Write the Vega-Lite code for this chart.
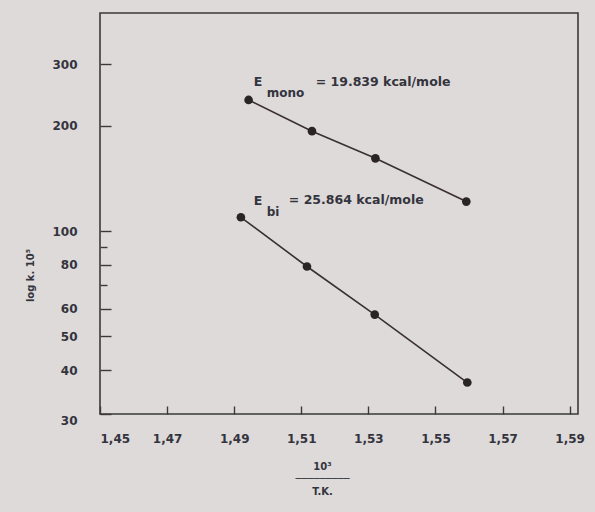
{
  "$schema": "https://vega.github.io/schema/vega-lite/v6.json",
  "width": 478,
  "height": 401,
  "autosize": {"type": "none"},
  "padding": {"left": 100, "top": 13, "right": 17, "bottom": 98},
  "background": "#dedad9",
  "config": {
    "view": {"stroke": "#3a3a3a", "strokeWidth": 1.6},
    "font": "DejaVu Sans",
    "axis": {
      "domain": false,
      "grid": false,
      "labelColor": "#34343e",
      "labelFontSize": 12,
      "labelFontWeight": "bold",
      "tickColor": "#3a3a3a",
      "tickWidth": 1.4,
      "titleColor": "#34343e",
      "titleFontWeight": "bold"
    }
  },
  "datasets": {
    "points": [
      {"series": "mono", "x": 1.4943, "k": 237},
      {"series": "mono", "x": 1.5132, "k": 193},
      {"series": "mono", "x": 1.5321, "k": 161.4},
      {"series": "mono", "x": 1.5592, "k": 121.4},
      {"series": "bi", "x": 1.492, "k": 109.5},
      {"series": "bi", "x": 1.5117, "k": 79.2},
      {"series": "bi", "x": 1.5319, "k": 57.7},
      {"series": "bi", "x": 1.5595, "k": 36.9}
    ],
    "labels": [
      {"x": 1.4958, "k": 266.6, "text": "E"},
      {"x": 1.5143, "k": 266.6, "text": "= 19.839 kcal/mole"},
      {"x": 1.4958, "k": 122.2, "text": "E"},
      {"x": 1.5063, "k": 123, "text": "= 25.864 kcal/mole"}
    ],
    "subs": [
      {"x": 1.4997, "k": 248, "text": "mono"},
      {"x": 1.4997, "k": 113.6, "text": "bi"}
    ]
  },
  "encoding": {
    "x": {
      "field": "x",
      "type": "quantitative",
      "scale": {"domain": [1.45, 1.5925], "nice": false, "zero": false},
      "axis": {
        "values": [1.45, 1.47, 1.49, 1.51, 1.53, 1.55, 1.57, 1.59],
        "labelExpr": "replace(format(datum.value, '.2f'), '.', ',')",
        "tickSize": -8,
        "labelPadding": 27,
        "title": ["10³", "─────────", "T.K."],
        "titleFontSize": 10,
        "titleLineHeight": 12.5,
        "titleX": 222,
        "titleY": 47,
        "titleBaseline": "top",
        "titleAlign": "center"
      }
    },
    "y": {
      "field": "k",
      "type": "quantitative",
      "scale": {"type": "log", "domain": [30, 420], "nice": false},
      "axis": {
        "values": [30, 40, 50, 60, 70, 80, 90, 100, 200, 300],
        "labelExpr": "datum.value == 70 || datum.value == 90 ? '' : format(datum.value, 'd')",
        "tickSize": {"condition": {"test": "datum.value == 70 || datum.value == 90", "value": -7}, "value": -11},
        "labelOffset": {"condition": {"test": "datum.value == 30", "value": 6}, "value": 0},
        "labelPadding": 34,
        "title": "log k. 10⁵",
        "titleFontSize": 10,
        "titleAngle": -90,
        "titleX": -70,
        "titleY": 262,
        "titleAlign": "center",
        "titleBaseline": "middle"
      }
    }
  },
  "layer": [
    {
      "data": {"name": "points"},
      "mark": {"type": "line", "color": "#3a3030", "strokeWidth": 1.6},
      "encoding": {"detail": {"field": "series"}}
    },
    {
      "data": {"name": "points"},
      "mark": {"type": "circle", "color": "#2a2424", "opacity": 1, "size": 75}
    },
    {
      "data": {"name": "labels"},
      "mark": {"type": "text", "align": "left", "baseline": "middle", "fontSize": 12.5, "fontWeight": "bold", "color": "#34343e"},
      "encoding": {"text": {"field": "text"}}
    },
    {
      "data": {"name": "subs"},
      "mark": {"type": "text", "align": "left", "baseline": "middle", "fontSize": 12, "fontWeight": "bold", "color": "#34343e"},
      "encoding": {"text": {"field": "text"}}
    }
  ]
}
